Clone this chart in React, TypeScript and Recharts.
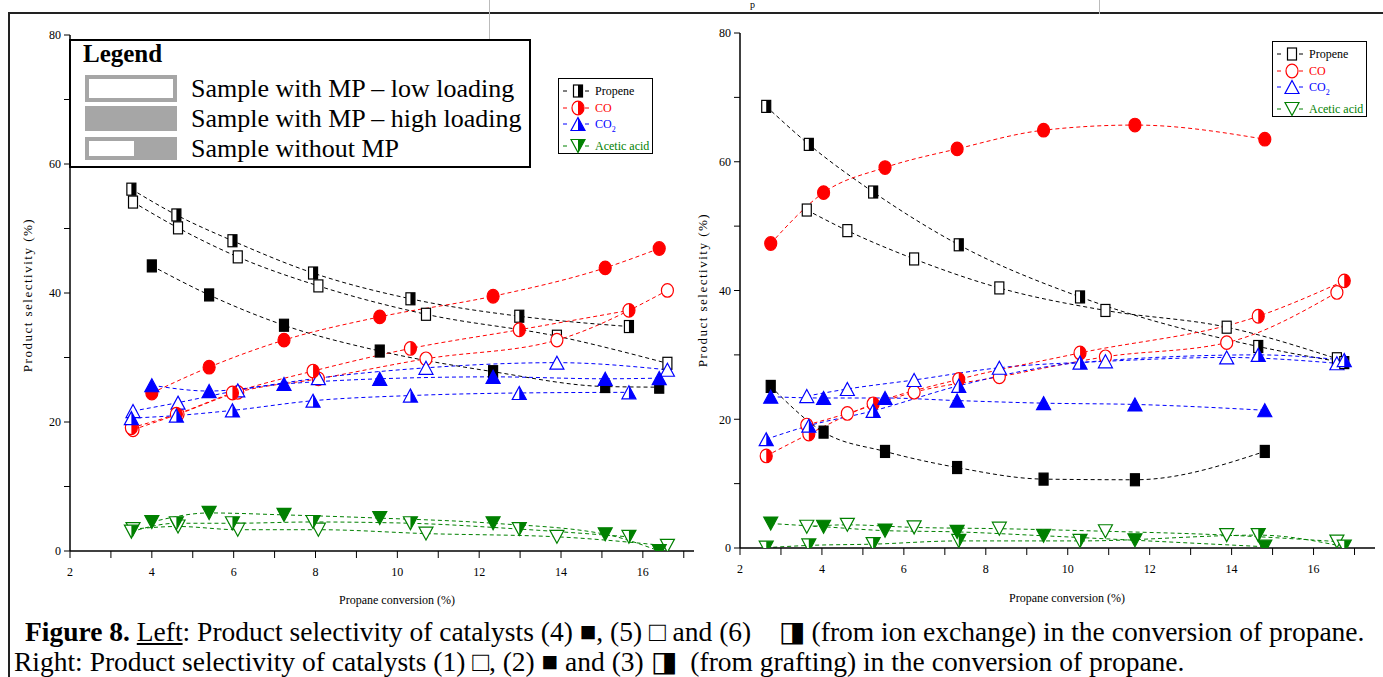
import React from 'react';
import { LineChart, Line, XAxis, YAxis } from 'recharts';

// ---------- tick values ----------
const xTickValues = [2, 3, 4, 5, 6, 7, 8, 9, 10, 11, 12, 13, 14, 15, 16, 17];
const yTickValues = [0, 10, 20, 30, 40, 50, 60, 70, 80];

// ---------- products ----------
const productNames = ['Propene', 'CO', 'CO2', 'Acetic acid'];
const productColors = ['#000000', '#ff0000', '#0000ff', '#008000'];
const productShapes = ['square', 'circle', 'triangle', 'invTriangle'];

// ---------- LEFT panel (ion exchange) ----------
// catalyst (4) filled
const leftCat4X = [4.0, 5.4, 7.23, 9.57, 12.34, 15.08, 16.4];
const leftCat4Propene = [44.2, 39.7, 35.0, 31.0, 27.8, 25.5, 25.4];
const leftCat4CO = [24.5, 28.5, 32.7, 36.3, 39.5, 43.9, 46.9];
const leftCat4CO2 = [25.7, 24.8, 25.9, 26.7, 27.0, 26.7, 26.8];
const leftCat4Acetic = [4.5, 5.9, 5.6, 5.1, 4.3, 2.6, 0.0];
// catalyst (5) open
const leftCat5X = [3.54, 4.64, 6.1, 8.07, 10.7, 13.9, 16.6];
const leftCat5Propene = [54.1, 50.1, 45.6, 41.1, 36.7, 33.3, 29.1];
const leftCat5CO = [18.8, 21.2, 24.6, 26.7, 29.8, 32.7, 40.4];
const leftCat5CO2 = [21.7, 23.0, 24.9, 26.8, 28.4, 29.2, 28.1];
const leftCat5Acetic = [3.4, 3.8, 3.3, 3.3, 2.7, 2.2, 0.8];
// catalyst (6) half filled
const leftCat6X = [3.5, 4.6, 5.97, 7.94, 10.32, 12.98, 15.66];
const leftCat6Propene = [56.1, 52.1, 48.1, 43.1, 39.1, 36.4, 34.8];
const leftCat6CO = [19.1, 21.2, 24.5, 27.9, 31.4, 34.3, 37.3];
const leftCat6CO2 = [20.6, 21.0, 21.8, 23.3, 24.1, 24.5, 24.6];
const leftCat6Acetic = [3.0, 4.3, 4.3, 4.5, 4.3, 3.4, 2.2];

// ---------- RIGHT panel (grafting) ----------
// catalyst (1) open
const rightCat1X = [3.63, 4.62, 6.25, 8.33, 10.92, 13.88, 16.57];
const rightCat1Propene = [52.5, 49.3, 44.9, 40.4, 36.9, 34.3, 29.4];
const rightCat1CO = [19.1, 20.9, 24.2, 26.6, 29.7, 31.9, 39.7];
const rightCat1CO2 = [23.6, 24.7, 26.1, 28.0, 29.0, 29.6, 28.7];
const rightCat1Acetic = [3.3, 3.6, 3.2, 3.0, 2.6, 2.0, 1.0];
// catalyst (2) filled
const rightCat2X = [2.75, 4.04, 5.54, 7.3, 9.41, 11.64, 14.81];
const rightCat2Propene = [25.1, 18.0, 15.0, 12.5, 10.7, 10.6, 15.0];
const rightCat2CO = [47.3, 55.2, 59.1, 62.0, 64.9, 65.7, 63.5];
const rightCat2CO2 = [23.5, 23.3, 23.3, 22.9, 22.5, 22.3, 21.4];
const rightCat2Acetic = [3.8, 3.3, 2.7, 2.5, 1.9, 1.2, 0.2];
// catalyst (3) half filled
const rightCat3X = [2.64, 3.68, 5.25, 7.34, 10.3, 14.65, 16.75];
const rightCat3Propene = [68.6, 62.7, 55.3, 47.1, 39.0, 31.3, 28.8];
const rightCat3CO = [14.3, 17.7, 22.4, 26.2, 30.3, 36.0, 41.5];
const rightCat3CO2 = [16.9, 19.0, 21.3, 25.2, 28.8, 30.0, 29.2];
const rightCat3Acetic = [0.05, 0.4, 0.6, 1.1, 1.1, 2.0, 0.2];

type FillKind = 'full' | 'open' | 'half';
type Series = { id: string; product: number; fill: FillKind; data: { x: number; y: number }[] };

function makeSeries(id: string, xs: number[], ys: number[][], fill: FillKind): Series[] {
  return ys.map((yv, p) => ({
    id: id + '-' + p,
    product: p,
    fill,
    data: xs.map((x, j) => ({ x, y: yv[j] })),
  }));
}

const leftSeries: Series[] = [
  ...makeSeries('l5', leftCat5X, [leftCat5Propene, leftCat5CO, leftCat5CO2, leftCat5Acetic], 'open'),
  ...makeSeries('l6', leftCat6X, [leftCat6Propene, leftCat6CO, leftCat6CO2, leftCat6Acetic], 'half'),
  ...makeSeries('l4', leftCat4X, [leftCat4Propene, leftCat4CO, leftCat4CO2, leftCat4Acetic], 'full'),
];
const rightSeries: Series[] = [
  ...makeSeries('r1', rightCat1X, [rightCat1Propene, rightCat1CO, rightCat1CO2, rightCat1Acetic], 'open'),
  ...makeSeries('r3', rightCat3X, [rightCat3Propene, rightCat3CO, rightCat3CO2, rightCat3Acetic], 'half'),
  ...makeSeries('r2', rightCat2X, [rightCat2Propene, rightCat2CO, rightCat2CO2, rightCat2Acetic], 'full'),
];

const SERIF = '"Liberation Serif", "Times New Roman", serif';

function Marker({ cx, cy, shape, color, fill }: { cx: number; cy: number; shape: string; color: string; fill: FillKind }) {
  const sw = 1.2;
  const bg = fill === 'full' ? color : '#ffffff';
  if (shape === 'square') {
    const w = 9, h = 12;
    return (
      <g>
        <rect x={cx - w / 2} y={cy - h / 2} width={w} height={h} fill={bg} stroke={color} strokeWidth={sw} />
        {fill === 'half' && <rect x={cx} y={cy - h / 2} width={w / 2} height={h} fill={color} />}
      </g>
    );
  }
  if (shape === 'circle') {
    const rx = 6, ry = 6.8;
    return (
      <g>
        <ellipse cx={cx} cy={cy} rx={rx} ry={ry} fill={bg} stroke={color} strokeWidth={sw} />
        {fill === 'half' && <path d={`M ${cx} ${cy - ry} A ${rx} ${ry} 0 0 1 ${cx} ${cy + ry} Z`} fill={color} />}
      </g>
    );
  }
  const w = 14, h = 13;
  if (shape === 'triangle') {
    const pts = `${cx},${cy - h / 2} ${cx + w / 2},${cy + h / 2} ${cx - w / 2},${cy + h / 2}`;
    return (
      <g>
        <polygon points={pts} fill={bg} stroke={color} strokeWidth={sw} />
        {fill === 'half' && <polygon points={`${cx},${cy - h / 2} ${cx + w / 2},${cy + h / 2} ${cx},${cy + h / 2}`} fill={color} />}
      </g>
    );
  }
  const pts = `${cx - w / 2},${cy - h / 2} ${cx + w / 2},${cy - h / 2} ${cx},${cy + h / 2}`;
  return (
    <g>
      <polygon points={pts} fill={bg} stroke={color} strokeWidth={sw} />
      {fill === 'half' && <polygon points={`${cx},${cy - h / 2} ${cx + w / 2},${cy - h / 2} ${cx},${cy + h / 2}`} fill={color} />}
    </g>
  );
}

function Panel({ series, xMax, margin }: { series: Series[]; xMax: number; margin: any }) {
  const tickStyle = { fontSize: 12, fontFamily: SERIF, fill: '#000' };
  return (
    <LineChart width={700} height={620} margin={margin}>
      <XAxis
        type="number"
        dataKey="x"
        domain={[2, xMax]}
        ticks={xTickValues}
        interval={0}
        tickFormatter={(v: number) => (v % 2 === 0 ? String(v) : '')}
        tick={tickStyle}
        tickSize={7}
        tickMargin={9}
        height={30}
        axisLine={{ stroke: '#000', strokeWidth: 1.5 }}
        tickLine={{ stroke: '#000', strokeWidth: 1 }}
        allowDataOverflow
      />
      <YAxis
        type="number"
        domain={[0, 80]}
        ticks={yTickValues}
        interval={0}
        tickFormatter={(v: number) => (v % 20 === 0 ? String(v) : '')}
        tick={tickStyle}
        tickSize={6}
        tickMargin={3}
        width={40}
        axisLine={{ stroke: '#000', strokeWidth: 1.5 }}
        tickLine={{ stroke: '#000', strokeWidth: 1 }}
        allowDataOverflow
      />
      {series.map((s) => {
        const color = productColors[s.product];
        const shape = productShapes[s.product];
        return (
          <Line
            key={s.id}
            data={s.data}
            dataKey="y"
            type="monotone"
            stroke={color}
            strokeWidth={1}
            strokeDasharray="4 3"
            isAnimationActive={false}
            activeDot={false}
            dot={(p: any) => (
              <Marker key={s.id + '-' + p.index} cx={p.cx} cy={p.cy} shape={shape} color={color} fill={s.fill} />
            )}
          />
        );
      })}
    </LineChart>
  );
}

function SmallLegend({ left, top, fill }: { left: number; top: number; fill: FillKind }) {
  const rowCenters = [12, 29, 45, 67];
  return (
    <div
      style={{
        position: 'absolute',
        left,
        top,
        width: 93,
        height: 74,
        border: '1px solid #000',
        background: '#fff',
        fontFamily: SERIF,
        fontSize: 12,
      }}
    >
      {productNames.map((n, i) => (
        <div key={n} style={{ position: 'absolute', left: 0, top: rowCenters[i] - 8, height: 16, width: 93, whiteSpace: 'nowrap' }}>
          <svg width={32} height={16} style={{ position: 'absolute', left: 2, top: 0 }}>
            <line x1={2} x2={6} y1={8} y2={8} stroke={productColors[i]} strokeWidth={1} />
            <Marker cx={17} cy={8} shape={productShapes[i]} color={productColors[i]} fill={fill} />
            <line x1={24} x2={28} y1={8} y2={8} stroke={productColors[i]} strokeWidth={1} />
          </svg>
          <span style={{ position: 'absolute', left: 36, top: 0, lineHeight: '16px', color: productColors[i] }}>
            {n === 'CO2' ? (
              <>
                CO<sub style={{ fontSize: 8, verticalAlign: -4 }}>2</sub>
              </>
            ) : (
              n
            )}
          </span>
        </div>
      ))}
    </div>
  );
}

const legendRows = ['Sample with MP \u2013 low loading', 'Sample with MP \u2013 high loading', 'Sample without MP'];

function BigLegend() {
  const gray = '#a6a6a6';
  const rowTops = [75, 106, 137];
  const rowHeights = [27, 25, 23];
  return (
    <div
      style={{
        position: 'absolute',
        left: 69,
        top: 39,
        width: 458,
        height: 125,
        border: '2px solid #000',
        background: '#fff',
        fontFamily: SERIF,
      }}
    >
      <div style={{ position: 'absolute', left: 12, top: 0, fontSize: 25, fontWeight: 'bold', lineHeight: '26px' }}>Legend</div>
      {legendRows.map((t, i) => (
        <React.Fragment key={t}>
          <div
            style={{
              position: 'absolute',
              left: 14,
              top: rowTops[i] - 41,
              width: 92,
              height: rowHeights[i],
              background: gray,
            }}
          >
            {i === 0 && <div style={{ position: 'absolute', left: 4, top: 4, width: 84, height: 19, background: '#fff' }} />}
            {i === 2 && <div style={{ position: 'absolute', left: 4, top: 4, width: 45, height: 15, background: '#fff' }} />}
          </div>
          <div
            style={{
              position: 'absolute',
              left: 120,
              top: rowTops[i] - 41 + rowHeights[i] / 2 - 15,
              fontSize: 26,
              lineHeight: '30px',
              whiteSpace: 'nowrap',
            }}
          >
            {t}
          </div>
        </React.Fragment>
      ))}
    </div>
  );
}

export default function App() {
  const abs = (s: any) => ({ position: 'absolute', ...s });
  return (
    <div style={{ position: 'fixed', left: 0, top: 0, width: 1383, height: 677, background: '#fff', overflow: 'hidden', fontFamily: SERIF }}>
      {/* page frame */}
      <div style={abs({ left: 8, top: 12, width: 1375, height: 2, background: '#222' })} />
      <div style={abs({ left: 8, top: 12, width: 2, height: 665, background: '#222' })} />
      <div style={abs({ left: 489, top: 0, width: 1, height: 40, background: '#bbb' })} />
      <div style={abs({ left: 1099, top: 0, width: 1, height: 14, background: '#bbb' })} />
      <div style={abs({ left: 750, top: 0, fontSize: 10, lineHeight: '10px' })}>p</div>

      <div style={abs({ left: 0, top: 0 })}>
        <Panel series={leftSeries} xMax={17.25} margin={{ top: 35, right: 6, bottom: 39, left: 30 }} />
      </div>
      <div style={abs({ left: 680, top: 0 })}>
        <Panel series={rightSeries} xMax={17.5} margin={{ top: 33, right: 5, bottom: 42, left: 20 }} />
      </div>

      {/* axis titles */}
      <div style={abs({ left: 397, top: 600, transform: 'translate(-50%,-50%)', fontSize: 12, whiteSpace: 'nowrap' })}>Propane conversion (%)</div>
      <div style={abs({ left: 1067, top: 598, transform: 'translate(-50%,-50%)', fontSize: 12, whiteSpace: 'nowrap' })}>Propane conversion (%)</div>
      <div style={abs({ left: 28, top: 295, transform: 'translate(-50%,-50%) rotate(-90deg)', fontSize: 13, letterSpacing: 1.5, whiteSpace: 'nowrap' })}>Product selectivity (%)</div>
      <div style={abs({ left: 703, top: 290, transform: 'translate(-50%,-50%) rotate(-90deg)', fontSize: 13, letterSpacing: 1.5, whiteSpace: 'nowrap' })}>Product selectivity (%)</div>

      <BigLegend />
      <SmallLegend left={558} top={78} fill="half" />
      <SmallLegend left={1272} top={41} fill="open" />

      {/* caption */}
      <div style={abs({ left: 25, top: 617, fontSize: 27.5, lineHeight: '30px', whiteSpace: 'nowrap' })}>
        <b>Figure 8.</b> <u>Left</u>: Product selectivity of catalysts (4) {'\u25A0'}, (5) {'\u25A1'} and (6) &nbsp;&nbsp; {'\u25E8'} (from ion exchange) in the conversion of propane.
      </div>
      <div style={abs({ left: 14, top: 647, fontSize: 27.5, lineHeight: '30px', whiteSpace: 'nowrap' })}>
        Right: Product selectivity of catalysts (1) {'\u25A1'}, (2) {'\u25A0'} and (3) {'\u25E8'} &nbsp;(from grafting) in the conversion of propane.
      </div>
    </div>
  );
}
